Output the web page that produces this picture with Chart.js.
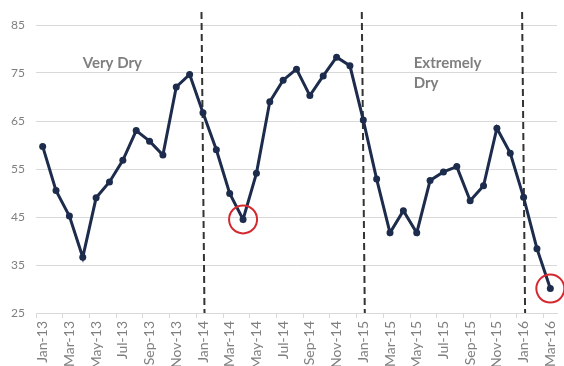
<!DOCTYPE html>
<html>
<head>
<meta charset="utf-8">
<script src="https://cdn.jsdelivr.net/npm/chart.js@4.4.1/dist/chart.umd.min.js"></script>
<style>
  html, body { margin: 0; padding: 0; background: #ffffff; }
  #wrap { width: 564px; height: 366px; position: relative; }
</style>
</head>
<body>
<div id="wrap"><canvas id="c" width="564" height="366"></canvas></div>
<script>
// Monthly index, Jan-13 .. Mar-16
const months = [
  'Jan-13','Feb-13','Mar-13','Apr-13','May-13','Jun-13','Jul-13','Aug-13','Sep-13','Oct-13','Nov-13','Dec-13',
  'Jan-14','Feb-14','Mar-14','Apr-14','May-14','Jun-14','Jul-14','Aug-14','Sep-14','Oct-14','Nov-14','Dec-14',
  'Jan-15','Feb-15','Mar-15','Apr-15','May-15','Jun-15','Jul-15','Aug-15','Sep-15','Oct-15','Nov-15','Dec-15',
  'Jan-16','Feb-16','Mar-16'
];
const values = [
  59.7, 50.5, 45.2, 36.6, 49.0, 52.3, 56.8, 63.0, 60.8, 57.9, 72.1, 74.7,
  66.7, 59.0, 49.9, 44.5, 54.1, 69.0, 73.5, 75.8, 70.3, 74.4, 78.3, 76.5,
  65.2, 52.9, 41.7, 46.3, 41.7, 52.6, 54.4, 55.5, 48.4, 51.5, 63.5, 58.3,
  49.1, 38.4, 30.1
];
const yTicks = [25, 35, 45, 55, 65, 75, 85];
// Period separators and highlighted lows
const dividers = ['Jan-14', 'Jan-15', 'Jan-16'];
const circled = ['Apr-14', 'Mar-16'];
const captionMonths = ['Apr-13', 'May-15'];
const captionLines = [['Very Dry'], ['Extremely', 'Dry']];

const LINE = '#1d2c4c';
const GREY_TEXT = '#7f7f7f';
const GRID = '#d9d9d9';

const overlay = {
  id: 'overlay',
  beforeDatasetsDraw(chart) {
    const { ctx, scales: { x }, chartArea } = chart;
    ctx.save();
    ctx.strokeStyle = '#333333';
    ctx.lineWidth = 2;
    ctx.setLineDash([7, 4]);
    dividers.forEach(m => {
      const px = x.getPixelForValue(months.indexOf(m));
      ctx.beginPath();
      ctx.moveTo(px - 1.5, 12);
      ctx.lineTo(px + 1.5, chartArea.bottom);
      ctx.stroke();
    });
    ctx.restore();
  },
  afterDatasetsDraw(chart) {
    const { ctx, scales: { x, y } } = chart;
    const meta = chart.getDatasetMeta(0);
    ctx.save();
    ctx.strokeStyle = '#d32a30';
    ctx.lineWidth = 2;
    circled.forEach(m => {
      const p = meta.data[months.indexOf(m)];
      ctx.beginPath();
      ctx.arc(p.x, p.y, 14, 0, Math.PI * 2);
      ctx.stroke();
    });
    // Period captions near the top of each section
    ctx.fillStyle = GREY_TEXT;
    ctx.font = 'bold 15px Lato';
    ctx.textAlign = 'left';
    ctx.textBaseline = 'alphabetic';
    const baseline = y.getPixelForValue(76);
    captionMonths.forEach((m, k) => {
      const px = x.getPixelForValue(months.indexOf(m)) - (k === 0 ? 0 : 3);
      captionLines[k].forEach((t, i) => ctx.fillText(t, px, baseline + i * 20));
    });
    ctx.restore();
  }
};

new Chart(document.getElementById('c'), {
  type: 'line',
  data: {
    labels: months,
    datasets: [{
      data: values,
      borderColor: LINE,
      backgroundColor: LINE,
      borderWidth: 3,
      tension: 0,
      pointRadius: 3.5,
      pointBackgroundColor: LINE,
      pointBorderColor: LINE,
      pointBorderWidth: 0
    }]
  },
  options: {
    responsive: false,
    animation: false,
    devicePixelRatio: 1,
    layout: { padding: { top: 25, right: 7, left: 0, bottom: 0 } },
    plugins: { legend: { display: false }, tooltip: { enabled: false }, title: { display: false } },
    scales: {
      x: {
        type: 'category',
        offset: true,
        afterFit(s) { s.height = 53; s.paddingLeft = 0; s.paddingRight = 0; },
        border: { display: true, color: GRID, width: 1 },
        grid: {
          offset: true,
          drawOnChartArea: false,
          drawTicks: true,
          tickLength: 5,
          color: c => (c.index % 2 === 0 ? GRID : 'rgba(0,0,0,0)')
        },
        ticks: {
          autoSkip: false,
          maxRotation: 90,
          minRotation: 90,
          padding: 3,
          color: GREY_TEXT,
          font: { family: 'Lato', size: 14 },
          callback: (v, i) => (i % 2 === 0 ? months[i] : '')
        }
      },
      y: {
        min: yTicks[0],
        max: yTicks[yTicks.length - 1],
        afterFit(s) { s.width = 36; s.paddingTop = 0; s.paddingBottom = 0; },
        afterBuildTicks(s) { s.ticks = yTicks.map(v => ({ value: v })); },
        border: { display: false },
        grid: { color: GRID, lineWidth: 1, drawTicks: false },
        ticks: {
          padding: 11,
          color: GREY_TEXT,
          font: { family: 'Lato', size: 12 }
        }
      }
    }
  },
  plugins: [overlay]
});
</script>
</body>
</html>
